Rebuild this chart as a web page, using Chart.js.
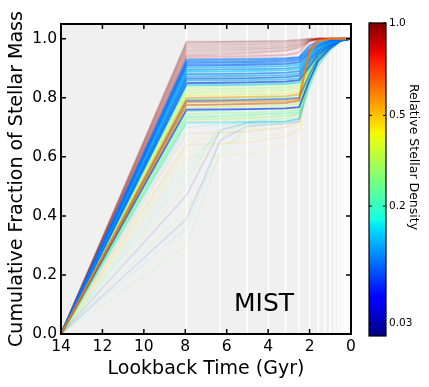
<!DOCTYPE html>
<html>
<head>
<meta charset="utf-8">
<script src="https://cdn.jsdelivr.net/npm/chart.js@4.4.0/dist/chart.umd.min.js"></script>
<style>
  html, body { margin: 0; padding: 0; background: #fff; }
</style>
</head>
<body>
<canvas id="sfh" width="429" height="387"></canvas>
<script>
// lookback time of each point on a curve (Gyr)
const lookback = [14, 7.94, 6.31, 5.01, 3.16, 2.51, 2.0, 1.58, 1.0, 0.5, 0];
const xTicks = [14, 12, 10, 8, 6, 4, 2, 0];
const yTicks = [0, 0.2, 0.4, 0.6, 0.8, 1.0];
// age bin edges (white guide lines)
const binEdges = [7.94, 6.31, 5.01, 3.98, 3.16, 2.51, 2.0, 1.58, 1.26, 1.0, 0.79, 0.63, 0.5, 0.4, 0.32, 0.25, 0.2, 0.16, 0.13, 0.1];
const cbTicks = [0.03, 0.2, 0.5, 1.0];

// high density runs
const brownDensity = [1.0, 0.98, 0.95, 0.97, 0.93, 0.99, 0.96, 0.92, 1.0, 0.85, 0.8];
const brownMass = [
  [0, .988, .989, .990, .992, .995, 1, 1, 1, 1, 1],
  [0, .982, .983, .984, .987, .991, .998, 1, 1, 1, 1],
  [0, .976, .977, .979, .982, .987, .997, 1, 1, 1, 1],
  [0, .970, .971, .973, .977, .983, .996, 1, 1, 1, 1],
  [0, .963, .965, .967, .972, .979, .994, .999, 1, 1, 1],
  [0, .957, .959, .962, .968, .976, .993, 1, 1, 1, 1],
  [0, .950, .952, .955, .962, .972, .991, .998, 1, 1, 1],
  [0, .944, .946, .950, .958, .968, .990, .999, 1, 1, 1],
  [0, .990, .990, .991, .993, .996, 1, 1, 1, 1, 1],
  [0, .940, .941, .943, .946, .955, .995, 1, 1, 1, 1],
  [0, .936, .937, .939, .944, .952, .993, 1, 1, 1, 1]
];

const greenDensity = [0.16, 0.18, 0.2, 0.22, 0.25, 0.28, 0.3, 0.33, 0.36, 0.26, 0.4, 0.23, 0.32, 0.19, 0.27, 0.21, 0.29, 0.14];
const greenMass = [
  [0, .905, .906, .908, .910, .915, .955, .978, .991, .998, 1],
  [0, .890, .891, .893, .896, .900, .945, .972, .989, .998, 1],
  [0, .876, .877, .879, .882, .887, .938, .967, .987, .997, 1],
  [0, .862, .863, .865, .868, .872, .930, .962, .985, .997, 1],
  [0, .850, .851, .853, .856, .860, .922, .958, .984, .997, 1],
  [0, .838, .840, .842, .845, .850, .916, .955, .982, .996, 1],
  [0, .828, .830, .832, .835, .840, .910, .951, .980, .996, 1],
  [0, .818, .820, .822, .826, .832, .905, .948, .979, .996, 1],
  [0, .808, .810, .812, .815, .820, .900, .945, .978, .995, 1],
  [0, .796, .798, .800, .803, .810, .895, .940, .976, .995, 1],
  [0, .786, .789, .791, .795, .800, .890, .938, .975, .995, 1],
  [0, .775, .778, .780, .784, .790, .885, .934, .974, .995, 1],
  [0, .765, .768, .770, .774, .780, .880, .930, .972, .994, 1],
  [0, .755, .757, .760, .764, .770, .872, .927, .970, .994, 1],
  [0, .745, .748, .750, .755, .760, .865, .924, .968, .994, 1],
  [0, .735, .738, .742, .747, .752, .855, .920, .966, .993, 1],
  [0, .726, .730, .733, .738, .745, .848, .915, .965, .993, 1],
  [0, .716, .717, .718, .720, .728, .840, .910, .962, .992, 1]
];

const blueDensity = [0.08, 0.09, 0.07, 0.1, 0.06, 0.11, 0.085, 0.12, 0.075, 0.095, 0.065, 0.105, 0.05, 0.13, 0.07, 0.045];
const blueMass = [
  [0, .930, .931, .932, .934, .938, .978, .992, .998, 1, 1],
  [0, .925, .926, .927, .930, .935, .972, .988, .996, 1, 1],
  [0, .920, .921, .922, .925, .930, .965, .984, .994, .999, 1],
  [0, .915, .916, .917, .920, .925, .960, .980, .993, .999, 1],
  [0, .910, .911, .912, .915, .920, .955, .977, .991, .998, 1],
  [0, .902, .903, .904, .907, .912, .950, .973, .989, .998, 1],
  [0, .895, .896, .897, .900, .905, .945, .970, .987, .997, 1],
  [0, .888, .889, .890, .893, .898, .940, .967, .986, .997, 1],
  [0, .880, .881, .882, .885, .890, .935, .963, .984, .996, 1],
  [0, .872, .873, .874, .877, .882, .930, .960, .982, .996, 1],
  [0, .865, .866, .867, .870, .875, .924, .956, .980, .995, 1],
  [0, .858, .859, .860, .862, .866, .915, .952, .978, .995, 1],
  [0, .850, .851, .852, .855, .860, .908, .947, .976, .994, 1],
  [0, .843, .844, .845, .848, .852, .900, .942, .975, .994, 1],
  [0, .790, .791, .793, .796, .800, .880, .935, .972, .994, 1],
  [0, .760, .761, .762, .764, .768, .860, .925, .968, .993, 1]
];

const warmDensity = [0.6, 0.55, 0.68];
const warmMass = [
  [0, .785, .786, .787, .789, .795, .965, .995, 1, 1, 1],
  [0, .800, .801, .803, .806, .812, .950, .990, 1, 1, 1],
  [0, .775, .777, .779, .782, .790, .960, .997, 1, 1, 1]
];

// outlier runs, drawn faint
const faintDensity = [0.25, 0.2, 0.04, 0.035, 0.3, 0.45, 0.55, 0.6, 0.5, 0.18, 0.22, 0.42, 0.15, 0.38, 0.28, 0.24];
const faintMass = [
  [0, .300, .620, .700, .720, .740, .880, .950, .980, .995, 1],
  [0, .360, .660, .720, .730, .750, .890, .950, .980, .995, 1],
  [0, .390, .655, .705, .712, .720, .850, .930, .975, .995, 1],
  [0, .470, .690, .715, .720, .730, .860, .940, .975, .995, 1],
  [0, .500, .720, .740, .750, .760, .880, .940, .978, .995, 1],
  [0, .600, .605, .607, .640, .660, .900, .950, .980, .995, 1],
  [0, .640, .645, .648, .670, .690, .920, .960, .985, .996, 1],
  [0, .680, .682, .685, .700, .720, .930, .970, .990, .997, 1],
  [0, .720, .724, .727, .730, .745, .940, .975, .990, .997, 1],
  [0, .550, .700, .730, .740, .750, .870, .940, .976, .995, 1],
  [0, .580, .680, .715, .720, .730, .860, .930, .975, .995, 1],
  [0, .650, .670, .690, .700, .710, .900, .950, .980, .995, 1],
  [0, .700, .710, .712, .715, .720, .870, .930, .975, .995, 1],
  [0, .620, .640, .660, .680, .690, .890, .945, .980, .995, 1],
  [0, .420, .600, .700, .715, .725, .870, .940, .976, .995, 1],
  [0, .530, .690, .720, .728, .735, .875, .942, .977, .995, 1]
];

// colorbar norm: where each cb tick sits along the bar (0 bottom, 1 top)
const cbTickFrac = [0.04, 0.415, 0.705, 1.0];

const JET = {
  r: [[0, 0], [0.35, 0], [0.66, 1], [0.89, 1], [1, 0.5]],
  g: [[0, 0], [0.125, 0], [0.375, 1], [0.64, 1], [0.91, 0], [1, 0]],
  b: [[0, 0.5], [0.11, 1], [0.34, 1], [0.65, 0], [1, 0]]
};

function lerpTable(pts, f) {
  if (f <= pts[0][0]) return pts[0][1];
  for (let i = 1; i < pts.length; i++) {
    if (f <= pts[i][0]) {
      const [x0, y0] = pts[i - 1], [x1, y1] = pts[i];
      return y0 + (y1 - y0) * (f - x0) / (x1 - x0);
    }
  }
  return pts[pts.length - 1][1];
}

function jet(f, alpha) {
  const r = Math.round(255 * lerpTable(JET.r, f));
  const g = Math.round(255 * lerpTable(JET.g, f));
  const b = Math.round(255 * lerpTable(JET.b, f));
  return 'rgba(' + r + ',' + g + ',' + b + ',' + alpha + ')';
}

function densityFrac(d) {
  const pts = cbTicks.map((v, i) => [Math.log10(v), cbTickFrac[i]]);
  let f = lerpTable(pts, Math.log10(d));
  if (d < cbTicks[0]) f = cbTickFrac[0] * d / cbTicks[0];
  return Math.max(0, Math.min(1, f));
}

function makeRuns(dens, mass, alpha, width) {
  return mass.map((row, i) => ({
    data: lookback.map((t, j) => ({ x: t, y: row[j] })),
    borderColor: jet(densityFrac(dens[i]), alpha),
    borderWidth: width,
    pointRadius: 0,
    tension: 0,
    fill: false
  }));
}

// first dataset is drawn on top in Chart.js, so list top layers first
const datasets = [].concat(
  makeRuns(warmDensity, warmMass, 0.5, 1.8),
  makeRuns(blueDensity, blueMass, 0.55, 1.8),
  makeRuns(greenDensity, greenMass, 0.38, 1.8),
  makeRuns(brownDensity, brownMass, 0.15, 1.8),
  makeRuns(faintDensity, faintMass, 0.1, 1.6)
);

const axisFont = { family: 'DejaVu Sans', size: 19 };
const tickFont = { family: 'DejaVu Sans', size: 15.5 };

const sfhFrame = {
  id: 'sfhFrame',
  beforeDraw(chart) {
    const { ctx, chartArea: a } = chart;
    const x = chart.scales.x;
    ctx.save();
    ctx.fillStyle = '#f0f0f0';
    ctx.fillRect(a.left, a.top, a.right - a.left, a.bottom - a.top);
    ctx.strokeStyle = '#ffffff';
    ctx.lineWidth = 1.5;
    for (const t of binEdges) {
      const px = x.getPixelForValue(t);
      ctx.beginPath();
      ctx.moveTo(px, a.top);
      ctx.lineTo(px, a.bottom);
      ctx.stroke();
    }
    ctx.restore();
  },
  afterDraw(chart) {
    const { ctx, chartArea: a } = chart;
    const x = chart.scales.x, y = chart.scales.y;
    ctx.save();
    // ticks pointing in, on all four sides
    ctx.strokeStyle = '#000';
    ctx.lineWidth = 1.5;
    ctx.beginPath();
    for (const t of xTicks) {
      const px = x.getPixelForValue(t);
      ctx.moveTo(px, a.bottom); ctx.lineTo(px, a.bottom - 5);
      ctx.moveTo(px, a.top); ctx.lineTo(px, a.top + 5);
    }
    for (const v of yTicks) {
      const py = y.getPixelForValue(v);
      ctx.moveTo(a.left, py); ctx.lineTo(a.left + 5, py);
      ctx.moveTo(a.right, py); ctx.lineTo(a.right - 5, py);
    }
    ctx.stroke();
    ctx.lineWidth = 2;
    ctx.strokeRect(a.left, a.top, a.right - a.left, a.bottom - a.top);

    ctx.fillStyle = '#000';
    ctx.font = '25px "DejaVu Sans"';
    ctx.textAlign = 'center';
    ctx.textBaseline = 'alphabetic';
    ctx.fillText('MIST', x.getPixelForValue(4.2), y.getPixelForValue(0.078));

    // colorbar
    const cbL = a.right + 18, cbR = cbL + 17, cbT = a.top - 1, cbB = a.bottom + 2;
    const grad = ctx.createLinearGradient(0, cbB, 0, cbT);
    for (let i = 0; i <= 40; i++) grad.addColorStop(i / 40, jet(i / 40, 1));
    ctx.fillStyle = grad;
    ctx.fillRect(cbL, cbT, cbR - cbL, cbB - cbT);
    ctx.lineWidth = 1.2;
    ctx.strokeRect(cbL, cbT, cbR - cbL, cbB - cbT);
    ctx.fillStyle = '#000';
    ctx.font = '10.5px "DejaVu Sans"';
    ctx.textAlign = 'left';
    ctx.textBaseline = 'middle';
    ctx.beginPath();
    cbTicks.forEach((v, i) => {
      const py = cbB - cbTickFrac[i] * (cbB - cbT);
      ctx.fillText(v === 1 ? '1.0' : String(v), cbR + 3, py);
      ctx.moveTo(cbR, py); ctx.lineTo(cbR - 3, py);
      ctx.moveTo(cbL, py); ctx.lineTo(cbL + 3, py);
    });
    ctx.lineWidth = 1;
    ctx.stroke();
    ctx.translate(cbR + 24, 157);
    ctx.rotate(Math.PI / 2);
    ctx.font = '12.5px "DejaVu Sans"';
    ctx.textAlign = 'center';
    ctx.textBaseline = 'alphabetic';
    ctx.fillText('Relative Stellar Density', 0, 0);
    ctx.restore();
  }
};

new Chart(document.getElementById('sfh'), {
  type: 'line',
  data: { datasets: datasets },
  options: {
    responsive: false,
    animation: false,
    devicePixelRatio: 1,
    layout: { padding: { left: 0, top: 24, right: 78, bottom: 0 } },
    plugins: { legend: { display: false }, tooltip: { enabled: false } },
    scales: {
      x: {
        type: 'linear',
        reverse: true,
        min: 0,
        max: 14,
        afterBuildTicks: s => { s.ticks = xTicks.map(v => ({ value: v })); },
        afterFit: s => { s.height = 53; },
        grid: { display: false, drawTicks: false },
        border: { display: false },
        ticks: { padding: 4, font: tickFont, color: '#000', maxRotation: 0, autoSkip: false, callback: v => String(v) },
        title: { display: true, text: 'Lookback Time (Gyr)', font: axisFont, color: '#000', padding: { top: 0, bottom: 7 } }
      },
      y: {
        type: 'linear',
        min: 0,
        max: 1.05,
        afterBuildTicks: s => { s.ticks = yTicks.map(v => ({ value: v })); },
        afterFit: s => { s.width = 61; },
        grid: { display: false, drawTicks: false },
        border: { display: false },
        ticks: { padding: 4, font: tickFont, color: '#000', callback: v => v.toFixed(1) },
        title: { display: true, text: 'Cumulative Fraction of Stellar Mass', font: axisFont, color: '#000', padding: { top: 6, bottom: 0 } }
      }
    }
  },
  plugins: [sfhFrame]
});
</script>
</body>
</html>
